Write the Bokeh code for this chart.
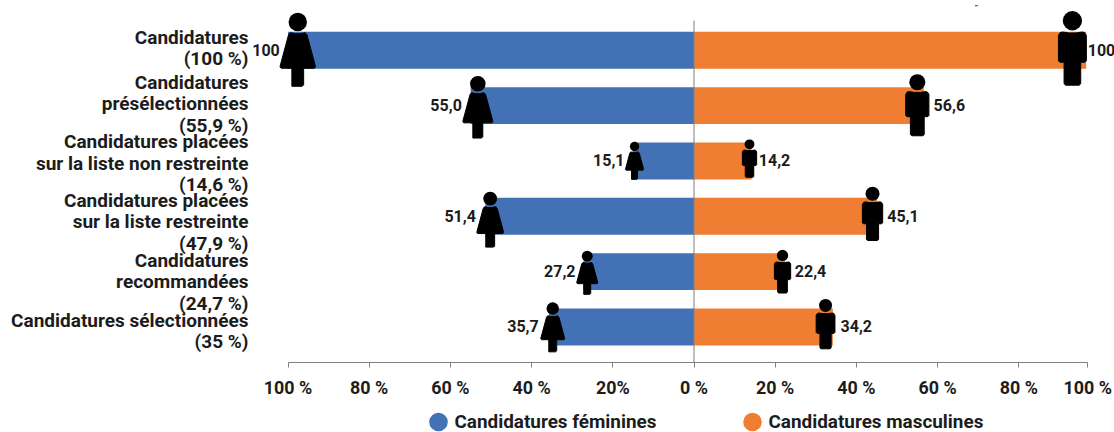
from bokeh.plotting import figure
from bokeh.layouts import column
from bokeh.models import Range1d, FixedTicker, ColumnDataSource
from bokeh.core.properties import value
from bokeh.embed import file_html
from bokeh.resources import INLINE

# ---- data ----
categories = [
    "Candidatures\n(100 %)",
    "Candidatures\nprésélectionnées\n(55,9 %)",
    "Candidatures placées\nsur la liste non restreinte\n(14,6 %)",
    "Candidatures placées\nsur la liste restreinte\n(47,9 %)",
    "Candidatures\nrecommandées\n(24,7 %)",
    "Candidatures sélectionnées\n(35 %)",
]
category_rows = [-0.04, 0.97, 2.04, 3.10, 4.18, 5.07]
rows = [0, 1, 2, 3, 4, 5]
female = [100, 55.0, 15.1, 51.4, 27.2, 35.7]
male = [96.6, 56.6, 14.2, 45.1, 22.4, 34.2]      # the top bar stops at the axis' last tick
female_labels = ["100", "55,0", "15,1", "51,4", "27,2", "35,7"]
male_labels = ["100", "56,6", "14,2", "45,1", "22,4", "34,2"]
tick_values = [-100, -80, -60, -40, -20, 0, 20, 40, 60, 80, 97]
tick_labels = ["100 %", "80 %", "60 %", "40 %", "20%", "0 %", "20 %", "40 %", "60 %", "80 %", "100 %"]
series_names = ["Candidatures féminines", "Candidatures masculines"]

# ---- icon placement (value units, row units, pixels) ----
icon_x_f = [97.6, 53.25, 14.65, 50.2, 26.3, 34.8]
icon_r_f = [-0.013, 1.025, 1.993, 3.056, 4.016, 5.002]
icon_h_f = [73.7, 62.3, 37.6, 55.6, 43.7, 49.6]
gap_f = [18, 16, 10, 14.3, 11.7, 14]
icon_x_m = [93.2, 55.0, 13.67, 43.97, 21.8, 32.4]
icon_r_m = [-0.038, 0.989, 1.953, 2.951, 3.996, 4.944]
icon_h_m = [74.3, 61.7, 38, 54, 43.3, 50]
gap_m = [15.3, 16.3, 9.3, 14.7, 12.3, 15]

BLUE = "#4271B5"
ORANGE = "#EF7E32"
INK = "#1c1c1c"
GREY = "#7f7f7f"
FONT = value("Roboto")
PX_X = 4.06    # pixels per value unit
PX_Y = 55.5    # pixels per row

# icon outlines, in fractions of the icon height around its centre
female_shape = [
    (-0.08, 0.5), (-0.08, 0.255), (-0.225, 0.255), (-0.24, 0.24), (-0.238, 0.22),
    (-0.125, -0.20), (-0.10, -0.23), (-0.03, -0.215), (0.03, -0.215), (0.10, -0.23),
    (0.125, -0.20), (0.238, 0.22), (0.24, 0.24), (0.225, 0.255), (0.08, 0.255),
    (0.08, 0.48), (0.06, 0.5),
]
male_shape = [
    (-0.112, 0.48), (-0.112, 0.19), (-0.17, 0.19), (-0.188, 0.17), (-0.188, -0.17),
    (-0.165, -0.21), (-0.13, -0.218), (-0.05, -0.205), (0.05, -0.205), (0.13, -0.218),
    (0.165, -0.21), (0.188, -0.17), (0.188, 0.17), (0.17, 0.19), (0.112, 0.19),
    (0.112, 0.48), (0.09, 0.5), (-0.09, 0.5),
]


def outlines(xs, ys, hs, shape, sign):
    out_x, out_y = [], []
    for cx, cy, h in zip(xs, ys, hs):
        out_x.append([sign * cx + sx * h / PX_X for sx, _ in shape])
        out_y.append([cy + sy * h / PX_Y for _, sy in shape])
    return out_x, out_y


p = figure(
    width=1114, height=400, output_backend="svg", toolbar_location=None,
    x_range=Range1d(-109.24, 103.57), y_range=Range1d(5.6415, -0.899),
    min_border_left=250, min_border_right=0, min_border_top=0, min_border_bottom=37,
    x_axis_location="below", y_axis_location="left",
)
p.outline_line_color = None
p.grid.visible = False
p.background_fill_color = "white"

p.hbar(y=rows, left=[-v for v in female], right=0, height=37 / PX_Y, color=BLUE, line_color=None)
p.hbar(y=rows, left=0, right=male, height=37 / PX_Y, color=ORANGE, line_color=None)
p.segment(x0=[0], x1=[0], y0=[-0.536], y1=[5.6415], line_color=GREY, line_width=1)
p.segment(x0=[69.2], x1=[69.9], y0=[-0.804], y1=[-0.804], line_color="#333333", line_width=1)

# people
fx, fy = outlines(icon_x_f, icon_r_f, icon_h_f, female_shape, -1)
mx, my = outlines(icon_x_m, icon_r_m, icon_h_m, male_shape, 1)
p.patches(fx, fy, fill_color="black", line_color="black", line_width=1, line_join="round")
p.patches(mx, my, fill_color="black", line_color="black", line_width=1, line_join="round")
p.scatter(
    x=[-v for v in icon_x_f],
    y=[r - 0.375 * h / PX_Y for r, h in zip(icon_r_f, icon_h_f)],
    size=[0.25 * h for h in icon_h_f], marker="circle", color="black", line_color=None,
)
p.scatter(
    x=icon_x_m,
    y=[r - 0.37 * h / PX_Y for r, h in zip(icon_r_m, icon_h_m)],
    size=[0.26 * h for h in icon_h_m], marker="circle", color="black", line_color=None,
)

# values
p.text(
    x=[-v for v in icon_x_f], y=[r - 0.012 for r in rows], text=female_labels,
    x_offset=[-g for g in gap_f], text_align="right", text_baseline="middle",
    text_font=FONT, text_font_style="bold", text_font_size="16px", text_color=INK,
)
p.text(
    x=icon_x_m, y=[r - 0.012 for r in rows], text=male_labels,
    x_offset=gap_m, text_align="left", text_baseline="middle",
    text_font=FONT, text_font_style="bold", text_font_size="16px", text_color=INK,
)

# axes
xa = p.xaxis[0]
xa.ticker = FixedTicker(ticks=tick_values)
xa.major_label_overrides = dict(zip(tick_values, tick_labels))
xa.bounds = (-100, 97)
xa.axis_line_color = GREY
xa.major_tick_line_color = GREY
xa.major_tick_out = 5
xa.major_tick_in = 0
xa.minor_tick_line_color = None
xa.major_label_standoff = 9
xa.major_label_text_font = "Roboto"
xa.major_label_text_font_style = "bold"
xa.major_label_text_font_size = "17.9px"
xa.major_label_text_color = INK

ya = p.yaxis[0]
ya.ticker = FixedTicker(ticks=category_rows)
ya.major_label_overrides = dict(zip(category_rows, categories))
ya.axis_line_color = None
ya.major_tick_line_color = None
ya.minor_tick_line_color = None
ya.major_tick_in = 0
ya.major_tick_out = 0
ya.major_label_standoff = 2
ya.major_label_text_font = "Roboto"
ya.major_label_text_font_style = "bold"
ya.major_label_text_font_size = "19px"
ya.major_label_text_color = INK
ya.major_label_text_line_height = 0.935

# legend strip: its frame lines up with the main figure's frame in the column
q = figure(
    width=1114, height=32, output_backend="svg", toolbar_location=None,
    x_range=Range1d(250, 1114), y_range=Range1d(32, 0),
    x_axis_type=None, y_axis_type=None,
    min_border=0, align="start",
)
q.outline_line_color = None
q.grid.visible = False
legend = ColumnDataSource(dict(x=[438, 752], y=[21.5, 21.5], t=series_names, c=[BLUE, ORANGE]))
q.scatter(x="x", y="y", size=18.6, marker="circle", color="c", line_color=None, source=legend)
q.text(
    x=[454, 768], y=[20.5, 20.5], text=series_names, text_baseline="middle",
    text_font=FONT, text_font_style="bold", text_font_size="18.9px", text_color=INK,
)

page = column(p, q, spacing=0)
open("out.html", "w").write(file_html(page, INLINE))
